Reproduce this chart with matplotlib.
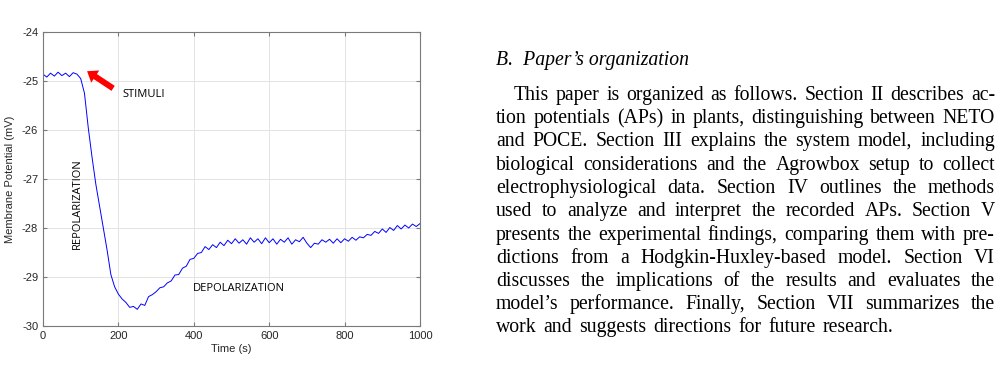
import math
import matplotlib
matplotlib.use('Agg')
import matplotlib.pyplot as plt
from matplotlib.font_manager import FontProperties, findfont, get_font
from matplotlib.backends.backend_agg import get_hinting_flag

plt.rcParams['axes.unicode_minus'] = False

# membrane potential trace, every 10 s
time_s = list(range(0, 1001, 10))
potential_mv = [
    -24.86, -24.92, -24.84, -24.90, -24.82, -24.89, -24.84, -24.91, -24.83, -24.86,
    -24.95, -25.25, -25.95, -26.55, -27.10, -27.55, -28.00, -28.45, -28.95, -29.20,
    -29.35, -29.45, -29.52, -29.62, -29.60, -29.66, -29.55, -29.58, -29.40, -29.36,
    -29.30, -29.22, -29.20, -29.12, -29.08, -28.96, -28.95, -28.82, -28.78, -28.64,
    -28.62, -28.52, -28.50, -28.38, -28.44, -28.34, -28.40, -28.29, -28.36, -28.25,
    -28.32, -28.22, -28.31, -28.24, -28.33, -28.20, -28.29, -28.22, -28.32, -28.20,
    -28.30, -28.22, -28.33, -28.23, -28.29, -28.20, -28.33, -28.24, -28.28, -28.19,
    -28.31, -28.40, -28.31, -28.33, -28.24, -28.29, -28.23, -28.31, -28.22, -28.30,
    -28.22, -28.27, -28.19, -28.25, -28.18, -28.20, -28.13, -28.15, -28.07, -28.11,
    -28.02, -28.09, -27.99, -28.05, -27.95, -28.02, -27.94, -28.00, -27.92, -27.97,
    -27.91,
]
x_ticks = [0, 200, 400, 600, 800, 1000]
y_ticks = [-30, -29, -28, -27, -26, -25, -24]

heading = 'B.  Paper\u2019s organization'
paragraph = [
    'This paper is organized as follows. Section II describes ac-',
    'tion potentials (APs) in plants, distinguishing between NETO',
    'and POCE. Section III explains the system model, including',
    'biological considerations and the Agrowbox setup to collect',
    'electrophysiological data. Section IV outlines the methods',
    'used to analyze and interpret the recorded APs. Section V',
    'presents the experimental findings, comparing them with pre-',
    'dictions from a Hodgkin-Huxley-based model. Section VI',
    'discusses the implications of the results and evaluates the',
    'model\u2019s performance. Finally, Section VII summarizes the',
    'work and suggests directions for future research.',
]

W, H = 1002, 368
DPI = 100
fig = plt.figure(figsize=(W / DPI, H / DPI), dpi=DPI)
ax = fig.add_axes([43 / W, 1 - 326 / H, 377 / W, 294 / H])

ax.plot(time_s, potential_mv, color='#0000ff', lw=0.7)
ax.set_xlim(0, 1000)
ax.set_ylim(-30, -24)
ax.set_xticks(x_ticks)
ax.set_yticks(y_ticks)
ax.grid(True, color='#e3e3e3', lw=0.7)
ax.set_axisbelow(True)
for s in ax.spines.values():
    s.set_color('#7a7a7a')
    s.set_linewidth(0.8)
ax.tick_params(direction='in', length=3, colors='#7a7a7a', labelcolor='#262626',
               labelsize=8, top=True, right=True, labeltop=False, labelright=False)
for lab in ax.get_xticklabels() + ax.get_yticklabels():
    lab.set_family('Liberation Sans')
ax.set_xlabel('Time (s)', fontsize=8, family='Liberation Sans', color='#262626', labelpad=2)
ax.set_ylabel('Membrane Potential (mV)', fontsize=8, family='Liberation Sans', color='#262626', labelpad=5)

# annotations
ax.annotate('', xy=(117, -24.80), xytext=(186, -25.15),
            arrowprops=dict(facecolor='#ff0000', edgecolor='none', width=4.3,
                            headwidth=10.5, headlength=7, shrink=0))
ax.text(212, -25.27, 'STIMULI', fontsize=8, family='Open Sans', va='center', ha='left')
ax.text(90, -27.5, 'REPOLARIZATION', fontsize=8, family='Open Sans', rotation=90,
        va='center', ha='center')
ax.text(398, -29.24, 'DEPOLARIZATION', fontsize=8, family='Open Sans', va='center', ha='left')

# paper text on the right
fs = 14.2
left, right = 496, 995
fig.text(left / W, 1 - 65 / H, heading, fontsize=fs, family='Liberation Serif',
         style='italic', va='baseline', ha='left')

serif = FontProperties(family='Liberation Serif', size=fs)


def pixel_shift(word):
    # Agg snaps each word bitmap on its own; undo that so all words share a baseline
    font = get_font(findfont(serif))
    font.clear()
    font.set_size(fs, DPI)
    font.set_text(word, 0, flags=get_hinting_flag())
    _, h = font.get_width_height()
    d = font.get_descent()
    return -d / 64 + h // 64 - math.floor((h - d) / 64)


renderer = fig.canvas.get_renderer()
y0, step = 100, 23.25
for i, line in enumerate(paragraph):
    base = round(y0 + i * step)
    x_start = left + 18 if i == 0 else left
    x_end = 893 if i == len(paragraph) - 1 else right
    words = line.split(' ')
    texts = [fig.text(0, 1 - (base + pixel_shift(w)) / H, w, fontproperties=serif,
                      va='baseline', ha='left') for w in words]
    widths = [t.get_window_extent(renderer).width for t in texts]
    gap = (x_end - x_start - sum(widths)) / (len(words) - 1)
    x = x_start
    for t, w in zip(texts, widths):
        t.set_x(x / W)
        x += w + gap

fig.savefig('out.png', dpi=DPI)
